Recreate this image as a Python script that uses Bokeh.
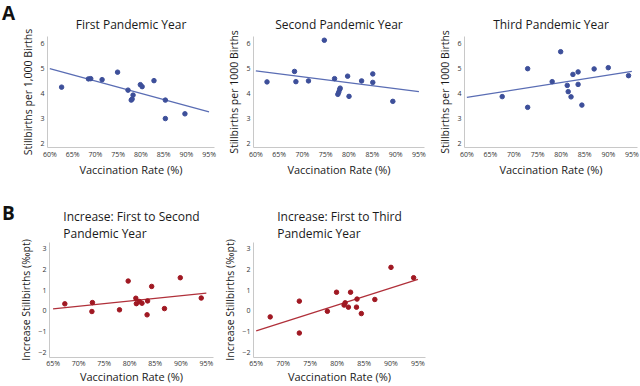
from bokeh.plotting import figure
from bokeh.layouts import column, row
from bokeh.models import FixedTicker, PrintfTickFormatter, Range1d, Div
from bokeh.embed import file_html
from bokeh.resources import INLINE

# ---- data ----
a1_x = [62.6, 68.5, 69.0, 71.5, 74.9, 77.2, 77.9, 78.1, 78.3, 79.9, 80.3, 82.9, 85.4, 85.4, 89.7]
a1_y = [4.27, 4.60, 4.61, 4.57, 4.87, 4.15, 3.75, 3.79, 3.95, 4.37, 4.29, 4.53, 3.75, 3.01, 3.20]
a1_fit_x = [60, 95]
a1_fit_y = [5.01, 3.28]

a2_x = [62.4, 68.3, 68.6, 71.3, 74.7, 76.9, 77.6, 77.8, 78.0, 78.1, 79.7, 80.0, 82.7, 85.1, 85.1, 89.4]
a2_y = [4.48, 4.90, 4.49, 4.52, 6.15, 4.61, 3.98, 4.07, 4.18, 4.23, 4.71, 3.90, 4.52, 4.80, 4.46, 3.70]
a2_fit_x = [60, 95]
a2_fit_y = [4.92, 4.09]

a3_x = [67.5, 72.9, 72.9, 78.1, 79.9, 81.3, 81.5, 82.1, 82.5, 83.6, 83.6, 84.4, 87.0, 90.0, 94.3]
a3_y = [3.89, 5.01, 3.46, 4.49, 5.69, 4.34, 4.09, 3.88, 4.78, 4.88, 4.38, 3.55, 5.00, 5.05, 4.73]
a3_fit_x = [60, 95]
a3_fit_y = [3.86, 4.90]

b1_x = [67.3, 72.7, 72.6, 78.0, 79.7, 81.2, 81.3, 81.9, 82.4, 83.5, 83.4, 84.3, 86.8, 89.9, 94.0]
b1_y = [0.34, 0.40, -0.03, 0.05, 1.44, 0.61, 0.35, 0.45, 0.37, 0.48, -0.19, 1.18, 0.11, 1.60, 0.62]
b1_fit_x = [65, 95]
b1_fit_y = [0.10, 0.86]

b2_x = [67.6, 73.0, 73.0, 78.2, 79.9, 81.3, 81.5, 82.1, 82.5, 83.7, 83.6, 84.5, 87.0, 90.0, 94.2]
b2_y = [-0.29, 0.47, -1.07, -0.02, 0.90, 0.28, 0.39, 0.18, 0.90, 0.57, 0.18, -0.13, 0.55, 2.10, 1.60]
b2_fit_x = [65, 95]
b2_fit_y = [-0.96, 1.52]

a_xticks = [60, 65, 70, 75, 80, 85, 90, 95]
a_yticks = [2, 3, 4, 5, 6]
b_xticks = [65, 70, 75, 80, 85, 90, 95]
b_yticks = [-2, -1, 0, 1, 2, 3]

titles = ["First Pandemic Year", "Second Pandemic Year", "Third Pandemic Year",
          "Increase: First to Second\nPandemic Year", "Increase: First to Third\nPandemic Year"]
ylabels = ["Stillbirths per 1,000 Births", "Stillbirths per 1000 Births", "Stillbirths per 1000 Births",
           "Increase Stillbirths (‰pt)", "Increase Stillbirths (‰pt)"]
xlabel = "Vaccination Rate (%)"
panel_letters = ["A", "B"]

BLUE_DOT = "#3d4f9a"
BLUE_LINE = "#5a6db4"
RED_DOT = "#a01822"
RED_LINE = "#b0303a"
FONT = "Open Sans"


def panel(w, h, bl, br, bt, bb, xr, yr, xt, yt, title, tstand, ylab, xs, ys, fx, fy, dot, line,
          xl_std, xa_std):
    p = figure(width=w, height=h, output_backend="svg", toolbar_location=None,
               x_range=Range1d(*xr), y_range=Range1d(*yr),
               min_border_left=bl, min_border_right=br, min_border_top=bt, min_border_bottom=bb)
    p.outline_line_color = None
    p.grid.visible = False
    p.background_fill_color = "white"
    p.border_fill_color = "white"
    p.title.text = title
    p.title.align = "center"
    p.title.text_font = FONT
    p.title.text_font_size = "12px"
    p.title.text_font_style = "normal"
    p.title.text_color = "#1a1a1a"
    p.title.text_line_height = 1.0
    p.title.standoff = tstand
    for ax in (p.xaxis[0], p.yaxis[0]):
        ax.axis_line_color = "#c8c8c8"
        ax.axis_line_width = 1
        ax.major_tick_out = 0
        ax.major_tick_in = 0
        ax.minor_tick_out = 0
        ax.minor_tick_in = 0
        ax.major_tick_line_color = None
        ax.minor_tick_line_color = None
        ax.major_label_text_font = FONT
        ax.major_label_text_font_size = "7px"
        ax.major_label_text_color = "#333333"
        ax.axis_label_text_font = FONT
        ax.axis_label_text_font_style = "normal"
        ax.axis_label_text_color = "#1a1a1a"
    p.xaxis[0].major_label_standoff = xl_std
    p.xaxis[0].axis_label_text_font_size = "11px"
    p.xaxis[0].axis_label_standoff = xa_std
    p.yaxis[0].major_label_standoff = 3
    p.yaxis[0].axis_label_text_font_size = "10.5px"
    p.yaxis[0].axis_label_standoff = 2
    p.xaxis[0].ticker = FixedTicker(ticks=xt)
    p.xaxis[0].formatter = PrintfTickFormatter(format="%d%%")
    p.xaxis[0].axis_label = xlabel
    p.yaxis[0].ticker = FixedTicker(ticks=yt)
    p.yaxis[0].axis_label = ylab
    p.line(fx, fy, line_color=line, line_width=1.3)
    p.scatter(xs, ys, size=4.5, fill_color=dot, line_color=dot)
    return p


def letter_div(w, h, letter, pad_top):
    return Div(text=letter, width=w, height=h, margin=0,
               styles={"font-family": FONT, "font-size": "19px", "font-weight": "bold",
                       "color": "#111111", "line-height": "1.4", "padding-top": f"{pad_top}px",
                       "padding-left": "2px", "box-sizing": "border-box"})


la = letter_div(18, 190, panel_letters[0], 0)
a1 = panel(200, 190, 24, 4, 36, 43, (59.5, 96.2), (1.85, 6.3), a_xticks, a_yticks,
           titles[0], 7, ylabels[0], a1_x, a1_y, a1_fit_x, a1_fit_y, BLUE_DOT, BLUE_LINE, 2, 0)
a2 = panel(210, 190, 35, 4, 36, 43, (59.5, 96.2), (1.85, 6.3), a_xticks, a_yticks,
           titles[1], 7, ylabels[1], a2_x, a2_y, a2_fit_x, a2_fit_y, BLUE_DOT, BLUE_LINE, 2, 0)
a3 = panel(212, 190, 36, 3, 36, 43, (59.5, 96.2), (1.85, 6.3), a_xticks, a_yticks,
           titles[2], 7, ylabels[2], a3_x, a3_y, a3_fit_x, a3_fit_y, BLUE_DOT, BLUE_LINE, 2, 0)
lb = letter_div(16, 196, panel_letters[1], 10)
b1 = panel(202, 196, 24, 5, 52, 28, (64.3, 96.4), (-2.25, 3.3), b_xticks, b_yticks,
           titles[3], 2, ylabels[3], b1_x, b1_y, b1_fit_x, b1_fit_y, RED_DOT, RED_LINE, 1, -2)
b2 = panel(210, 196, 35, 3, 52, 28, (64.5, 96.4), (-2.25, 3.3), b_xticks, b_yticks,
           titles[4], 2, ylabels[4], b2_x, b2_y, b2_fit_x, b2_fit_y, RED_DOT, RED_LINE, 1, -2)

layout = column(row(la, a1, a2, a3), row(lb, b1, b2))
open("out.html", "w").write(file_html(layout, INLINE))
